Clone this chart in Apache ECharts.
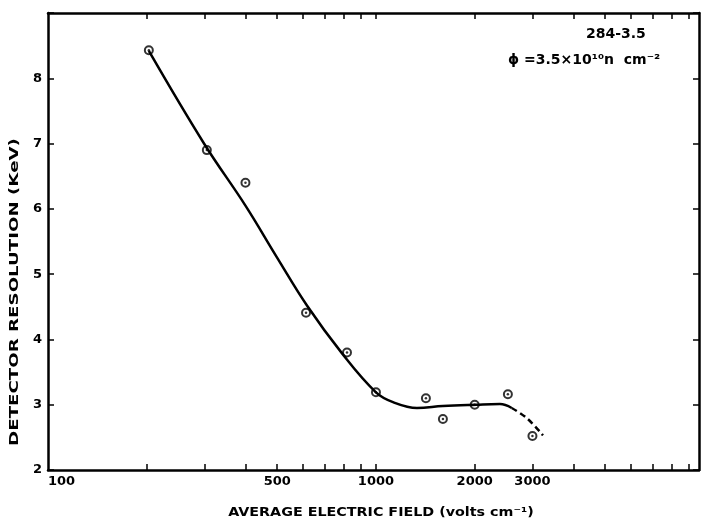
<!DOCTYPE html>
<html>
<head>
<meta charset="utf-8">
<script src="https://cdn.jsdelivr.net/npm/echarts@6/dist/echarts.min.js"></script>
<style>
  html, body { margin: 0; padding: 0; background: #fff; }
  #chart { width: 701px; height: 521px; }
</style>
</head>
<body>
<div id="chart"></div>
<script>
// measured points (volts/cm, keV)
const ptX = [203, 305, 400, 612, 816, 1000, 1420, 1600, 2000, 2525, 3000]
const ptY = [8.43, 6.90, 6.40, 4.41, 3.80, 3.19, 3.10, 2.78, 3.00, 3.16, 2.52]

// hand drawn fit, solid part
const curveX = [203, 300, 400, 500, 616, 787, 1000, 1127, 1334, 1600, 2020, 2388, 2594]
const curveY = [8.42, 6.99, 6.05, 5.25, 4.52, 3.79, 3.19, 3.04, 2.95, 2.98, 3.00, 3.01, 2.95]
// dashed tail
const dashX = [2594, 2890, 3230]
const dashY = [2.95, 2.79, 2.53]

const xLabelVals = [100, 500, 1000, 2000, 3000]
const xTickVals = [200, 300, 400, 500, 600, 700, 800, 900, 1000,
  2000, 3000, 4000, 5000, 6000, 7000, 8000, 9000]

const sampleName = "284-3.5"
const fluenceText = "ϕ =3.5×10¹⁰n  cm⁻²"
const xTitle = "AVERAGE ELECTRIC FIELD (volts cm⁻¹)"
const yTitle = "DETECTOR RESOLUTION (KeV)"

const FONT = "DejaVu Sans"
const pair = (xs, ys) => xs.map((x, i) => [x, ys[i]])

const chart = echarts.init(document.getElementById('chart'))

const axisLine = { show: true, lineStyle: { color: '#000', width: 2.5 } }
const tickStyle = { color: '#000', width: 1.5 }

function xAxisCfg(pos, showLabels) {
  return {
    type: 'log',
    logBase: 10,
    position: pos,
    min: 100,
    max: 9660,
    axisLine: axisLine,
    splitLine: { show: false },
    axisTick: {
      show: true, inside: true, length: 6, lineStyle: tickStyle,
      customValues: xTickVals
    },
    axisLabel: {
      show: showLabels,
      customValues: xLabelVals,
      margin: 5,
      color: '#000',
      fontFamily: FONT,
      fontWeight: 'bold',
      fontSize: 13,
      alignMinLabel: 'left',
      formatter: v => String(Math.round(v))
    }
  }
}

function yAxisCfg(pos, showLabels) {
  return {
    type: 'value',
    position: pos,
    min: 2,
    max: 9,
    interval: 1,
    axisLine: axisLine,
    splitLine: { show: false },
    axisTick: { show: true, inside: true, length: 6, lineStyle: tickStyle },
    axisLabel: {
      show: showLabels,
      margin: 6,
      color: '#000',
      fontFamily: FONT,
      fontWeight: 'bold',
      fontSize: 13,
      formatter: v => (v === 9 ? '' : String(v))
    }
  }
}

const option = {
  animation: false,
  backgroundColor: '#fff',
  grid: { left: 48, right: 2, top: 13, bottom: 51, containLabel: false },
  xAxis: [xAxisCfg('bottom', true), xAxisCfg('top', false)],
  yAxis: [yAxisCfg('left', true), yAxisCfg('right', false)],
  series: [
    {
      type: 'line',
      data: pair(curveX, curveY),
      smooth: 0.4,
      symbol: 'none',
      lineStyle: { color: '#000', width: 2.5 }
    },
    {
      type: 'line',
      data: pair(dashX, dashY),
      smooth: 0.4,
      symbol: 'none',
      lineStyle: { color: '#000', width: 2.5, type: [6, 4] }
    },
    {
      type: 'scatter',
      data: pair(ptX, ptY),
      symbol: 'emptyCircle',
      symbolSize: 8,
      itemStyle: { color: '#000', borderColor: '#000', borderWidth: 2 }
    },
    {
      type: 'scatter',
      data: pair(ptX, ptY),
      symbol: 'circle',
      symbolSize: 2.5,
      itemStyle: { color: '#000' }
    }
  ],
  graphic: [
    {
      type: 'text',
      left: 586, top: 27,
      style: { text: sampleName, fontFamily: FONT, fontWeight: 'bold', fontSize: 14, fill: '#000' }
    },
    {
      type: 'text',
      left: 508, top: 53,
      style: { text: fluenceText, fontFamily: FONT, fontWeight: 'bold', fontSize: 14, fill: '#000' }
    },
    {
      type: 'text',
      x: 381, y: 513,
      scaleX: 1.1,
      style: {
        text: xTitle, fontFamily: FONT, fontWeight: 'bold', fontSize: 13, fill: '#000',
        align: 'center', verticalAlign: 'middle'
      }
    },
    {
      type: 'text',
      x: 15, y: 292,
      rotation: Math.PI / 2,
      scaleX: 1.4,
      style: {
        text: yTitle, fontFamily: FONT, fontWeight: 'bold', fontSize: 13, fill: '#000',
        align: 'center', verticalAlign: 'middle'
      }
    }
  ]
}

chart.setOption(option)
</script>
</body>
</html>
